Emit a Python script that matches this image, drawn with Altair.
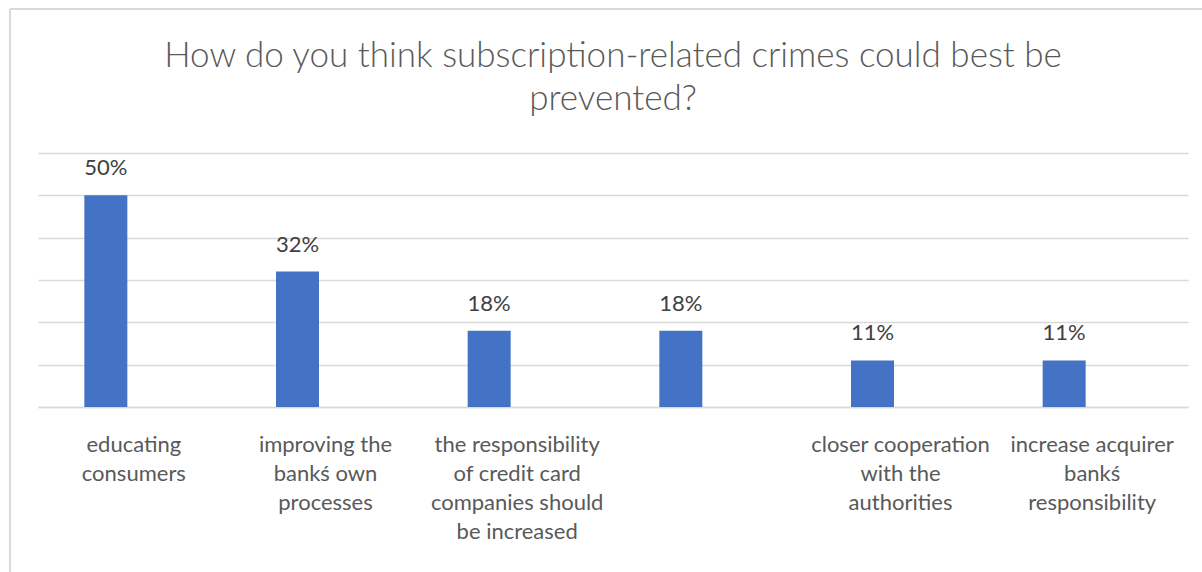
import altair as alt
import pandas as pd

title_lines = ["How do you think subscription-related crimes could best be", "prevented?"]
keys = ["a", "b", "c", "d", "e", "f"]
labels = [
    "educating\nconsumers",
    "improving the\nbankś own\nprocesses",
    "the responsibility\nof credit card\ncompanies should\nbe increased",
    "",
    "closer cooperation\nwith the\nauthorities",
    "increase acquirer\nbankś\nresponsibility",
]
values = [50, 32, 18, 18, 11, 11]
value_text = ["50%", "32%", "18%", "18%", "11%", "11%"]

df = pd.DataFrame({"key": keys, "label": labels, "value": values, "text": value_text})
one = pd.DataFrame({"n": [0]})

label_map = "{" + ",".join(f"'{k}': '{l.replace(chr(10), '|')}'" for k, l in zip(keys, labels)) + "}"

FONT = "Lato"
GRID = "#d9d9d9"

x = alt.X(
    "key:N",
    sort=keys,
    scale=alt.Scale(paddingInner=0, paddingOuter=0),
    axis=alt.Axis(
        title=None,
        labelExpr=f"split({label_map}[datum.value], '|')",
        labelAngle=0,
        labelFont=FONT,
        labelFontSize=22,
        labelColor="#595959",
        labelPadding=27,
        labelLineHeight=29,
        labelBaseline="top",
        ticks=False,
        domain=True,
        domainColor=GRID,
        domainWidth=1.5,
    ),
)
y = alt.Y(
    "value:Q",
    scale=alt.Scale(domain=[0, 60]),
    axis=alt.Axis(
        title=None,
        labels=False,
        ticks=False,
        domain=False,
        values=[0, 10, 20, 30, 40, 50, 60],
        grid=True,
        gridColor=GRID,
        gridWidth=1.5,
    ),
)

bars = alt.Chart(df).mark_bar(color="#4472c4", size=43, xOffset=-28).encode(x=x, y=y)
text = alt.Chart(df).mark_text(
    font=FONT, fontSize=22, color="#404040", dy=-15, xOffset=-28, baseline="bottom"
).encode(x=x, y=y, text="text:N")

border_left = alt.Chart(one).mark_rule(color=GRID, strokeWidth=2, clip=False).encode(
    x=alt.value(-28), y=alt.value(-144), y2=alt.value(420)
)
border_top = alt.Chart(one).mark_rule(color=GRID, strokeWidth=2, clip=False).encode(
    x=alt.value(-28), x2=alt.value(1170), y=alt.value(-144)
)
title = alt.Chart(one).mark_text(
    text=title_lines,
    font=FONT,
    fontSize=35,
    fontWeight=300,
    color="#595959",
    align="center",
    baseline="alphabetic",
    lineHeight=43,
    clip=False,
).encode(x=alt.value(575), y=alt.value(-86))

chart = (
    alt.layer(border_left, border_top, title, bars, text)
    .properties(
        width=1150,
        height=254,
        padding={"left": 38, "top": 153, "right": 14, "bottom": 165},
        autosize=alt.AutoSizeParams(type="none"),
    )
    .configure_view(stroke=None)
)

chart.save("out.html", embed_options={"renderer": "svg", "actions": False})
